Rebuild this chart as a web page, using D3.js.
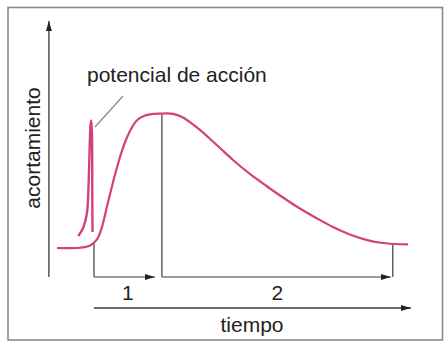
<!DOCTYPE html>
<html>
<head>
<meta charset="utf-8">
<script src="https://cdn.jsdelivr.net/npm/d3@7"></script>
<style>
  html, body { margin: 0; padding: 0; background: #fff; }
  svg { display: block; }
  text { font-family: "Liberation Sans", Arial, sans-serif; fill: #222; }
</style>
</head>
<body>
<svg id="chart" width="445" height="342"></svg>
<script>
// Muscle twitch: shortening over time after a single action potential.
// Time in arbitrary units, shortening as % of peak.
const twitchTime = [0, 6.5, 9.4, 11.3, 12.7, 14.1, 15.5, 17.0, 18.4, 19.8, 21.2, 22.6, 24.5, 27.4, 29.7, 31.0, 33.0, 35.8, 38.6, 40.6, 43.5, 46.3, 50.0, 54.8, 59.7, 64.2, 69.0, 73.9, 78.4, 83.2, 88.1, 92.6, 97.4, 99.7];
const twitchShortening = [0, 0.2, 1.9, 6.2, 14.9, 29.7, 44.6, 59.4, 71.8, 81.7, 89.2, 94.6, 97.9, 99.6, 99.8, 100, 99.6, 97.0, 91.8, 87.7, 81.0, 74.3, 65.4, 55.0, 45.7, 37.5, 29.3, 21.9, 15.6, 10.0, 5.9, 3.7, 2.8, 2.7];

// Action potential spike (same axes)
const spikeTime = [6.05, 7.4, 8.5, 8.8, 9.18, 9.52, 9.74, 9.94, 10.0, 10.03, 10.09];
const spikeValue = [8.9, 14.8, 25.9, 35.6, 65.2, 91.1, 94.8, 83.7, 65.2, 35.6, 11.9];

// Phase boundaries: onset of contraction, peak, end of relaxation
const phaseBounds = [10.5, 29.8, 95.4];
const phaseLabels = ["1", "2"];

const yAxisLabel = "acortamiento";
const xAxisLabel = "tiempo";
const spikeLabel = "potencial de acción";

const svg = d3.select("#chart");
const ink = "#3a3a3a";
const curveColor = "#d43f7c";
const fs = 21;

// frame
svg.append("rect")
  .attr("x", 8).attr("y", 7.5).attr("width", 434.5).attr("height", 332.5)
  .attr("fill", "none").attr("stroke", "#8a8a8a").attr("stroke-width", 1.6);

const x = d3.scaleLinear().domain([0, 100]).range([57, 409]);
const y = d3.scaleLinear().domain([0, 100]).range([248, 113.4]);

// arrow marker
const defs = svg.append("defs");
defs.append("marker")
  .attr("id", "arrow").attr("viewBox", "0 0 10 6")
  .attr("refX", 10).attr("refY", 3)
  .attr("markerWidth", 10).attr("markerHeight", 6)
  .attr("markerUnits", "userSpaceOnUse")
  .attr("orient", "auto")
  .append("path").attr("d", "M0,0 L10,3 L0,6 Z").attr("fill", "#222");

const axisX0 = x(-2.3);          // vertical axis position
const segY = 277;                // level of the phase arrows
const timeY = 308;               // level of the time arrow

// vertical (shortening) axis
svg.append("line")
  .attr("x1", axisX0).attr("y1", segY).attr("x2", axisX0).attr("y2", 21)
  .attr("stroke", ink).attr("stroke-width", 1.3)
  .attr("marker-end", "url(#arrow)");

// time axis arrow
svg.append("line")
  .attr("x1", x(phaseBounds[0])).attr("y1", timeY)
  .attr("x2", 411).attr("y2", timeY)
  .attr("stroke", ink).attr("stroke-width", 1.3)
  .attr("marker-end", "url(#arrow)");

const lineGen = d3.line()
  .x((d, i) => x(twitchTime[i])).y(d => y(d))
  .curve(d3.curveCatmullRom.alpha(0.5));

const interp = t => {
  const i = d3.bisectLeft(twitchTime, t);
  if (i <= 0) return twitchShortening[0];
  if (i >= twitchTime.length) return twitchShortening[twitchShortening.length - 1];
  const t0 = twitchTime[i - 1], t1 = twitchTime[i];
  const v0 = twitchShortening[i - 1], v1 = twitchShortening[i];
  return v0 + (v1 - v0) * (t - t0) / (t1 - t0);
};

// phase markers: verticals from the curve down to the arrow level
phaseBounds.forEach(t => {
  svg.append("line")
    .attr("x1", x(t)).attr("x2", x(t))
    .attr("y1", y(interp(t)) + 1).attr("y2", segY)
    .attr("stroke", ink).attr("stroke-width", 1.2);
});

// phase arrows with their numbers
const phaseEnds = [x(phaseBounds[1]) - 7, x(phaseBounds[2]) - 2];
phaseLabels.forEach((lab, i) => {
  svg.append("line")
    .attr("x1", x(phaseBounds[i])).attr("y1", segY)
    .attr("x2", phaseEnds[i]).attr("y2", segY)
    .attr("stroke", ink).attr("stroke-width", 1.2)
    .attr("marker-end", "url(#arrow)");
  svg.append("text")
    .attr("x", (x(phaseBounds[i]) + x(phaseBounds[i + 1])) / 2)
    .attr("y", 300)
    .attr("text-anchor", "middle")
    .attr("font-size", fs)
    .text(lab);
});

// twitch curve
svg.append("path")
  .attr("d", lineGen(twitchShortening))
  .attr("fill", "none").attr("stroke", curveColor)
  .attr("stroke-width", 2.2).attr("stroke-linejoin", "round");

// action potential spike
const spikeGen = d3.line()
  .x((d, i) => x(spikeTime[i])).y(d => y(d))
  .curve(d3.curveCatmullRom.alpha(0.5));
svg.append("path")
  .attr("d", spikeGen(spikeValue))
  .attr("fill", "none").attr("stroke", curveColor)
  .attr("stroke-width", 2.4).attr("stroke-linejoin", "round");

// leader line for the spike label
svg.append("line")
  .attr("x1", 95).attr("y1", 127).attr("x2", 123).attr("y2", 96)
  .attr("stroke", "#888").attr("stroke-width", 1.2);

// labels
svg.append("text")
  .attr("x", 87).attr("y", 81.5)
  .attr("font-size", fs)
  .text(spikeLabel);

svg.append("text")
  .attr("x", 252).attr("y", 332)
  .attr("text-anchor", "middle")
  .attr("font-size", fs)
  .text(xAxisLabel);

svg.append("text")
  .attr("transform", "translate(39.5,148) rotate(-90)")
  .attr("text-anchor", "middle")
  .attr("font-size", fs)
  .text(yAxisLabel);
</script>
</body>
</html>
